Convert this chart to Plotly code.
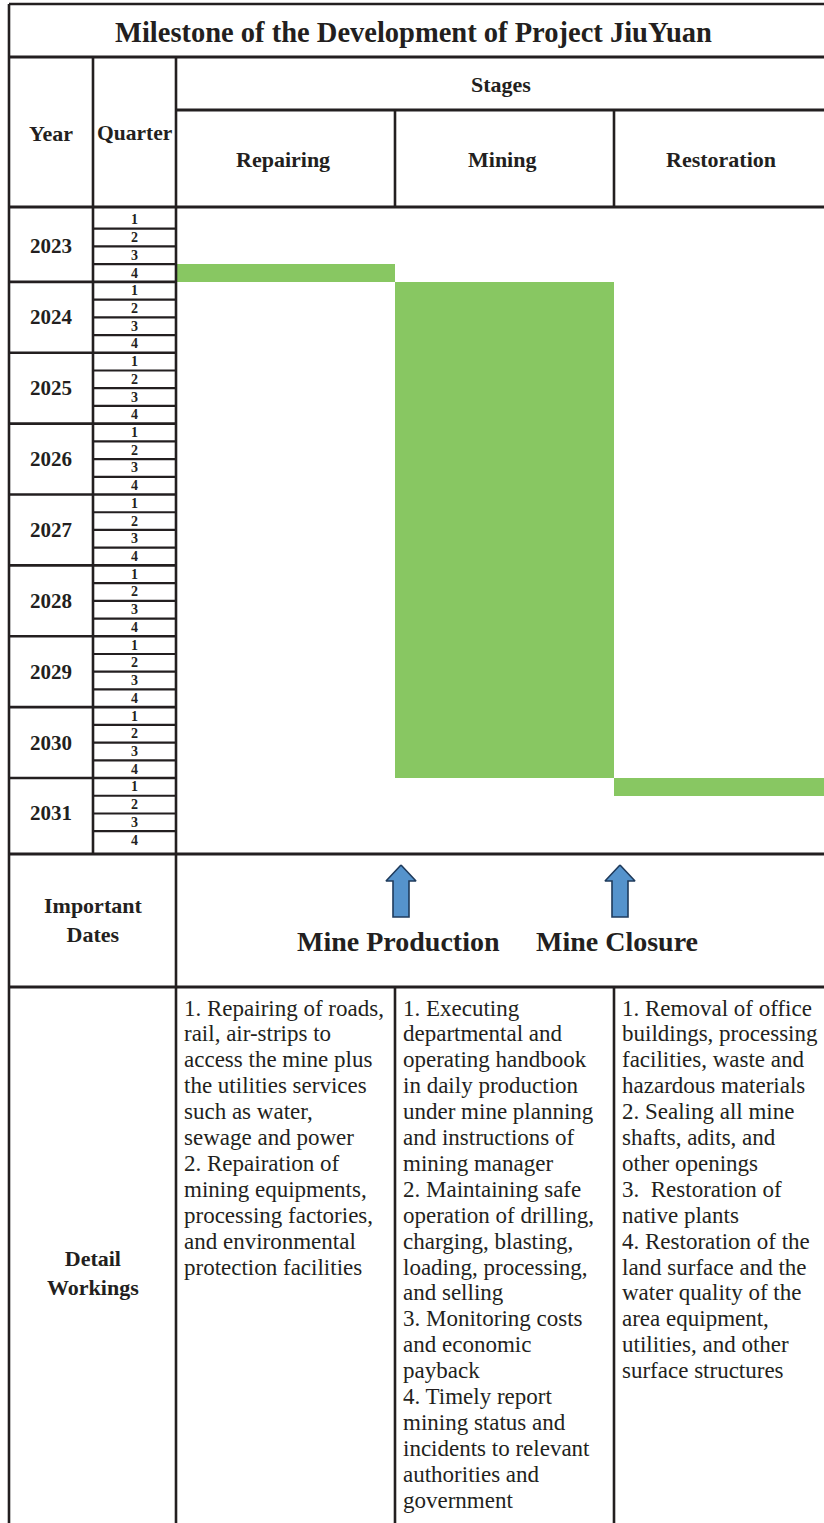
import plotly.graph_objects as go

# ---------------- data ----------------
TITLE = "Milestone of the Development of Project JiuYuan"
years = [2023, 2024, 2025, 2026, 2027, 2028, 2029, 2030, 2031]
quarters = [1, 2, 3, 4]
stages = ["Repairing", "Mining", "Restoration"]
stage_start = [(2023, 4), (2024, 1), (2031, 1)]   # (year, quarter) first active quarter
stage_end = [(2023, 4), (2030, 4), (2031, 1)]     # (year, quarter) last active quarter
milestones = ["Mine Production", "Mine Closure"]
milestone_stage = ["Mining", "Restoration"]       # milestone marks the start of this stage
header_labels = {"year": "Year", "quarter": "Quarter", "stages": "Stages"}
row_labels = ["Important<br>Dates", "Detail<br>Workings"]

details_repairing = [
    "1. Repairing of roads,", "rail, air-strips to", "access the mine plus",
    "the utilities services", "such as water,", "sewage and power",
    "2. Repairation of", "mining equipments,", "processing factories,",
    "and environmental", "protection facilities",
]
details_mining = [
    "1. Executing", "departmental and", "operating handbook", "in daily production",
    "under mine planning", "and instructions of", "mining manager",
    "2. Maintaining safe", "operation of drilling,", "charging, blasting,",
    "loading, processing,", "and selling", "3. Monitoring costs", "and economic",
    "payback", "4. Timely report", "mining status and", "incidents to relevant",
    "authorities and", "government",
]
details_restoration = [
    "1. Removal of office", "buildings, processing", "facilities, waste and",
    "hazardous materials", "2. Sealing all mine", "shafts, adits, and",
    "other openings", "3.  Restoration of", "native plants",
    "4. Restoration of the", "land surface and the", "water quality of the",
    "area equipment,", "utilities, and other", "surface structures",
]
details = [details_repairing, details_mining, details_restoration]

# ---------------- layout / style constants ----------------
W, H = 824, 1523
X_L, X_YEAR, X_QTR = 9, 93, 176
COL_W = 219
Y_TOP, Y_TITLE, Y_STAGES, Y_HEAD = 4, 57, 110, 207
Y_TIME, Y_DATES = 854, 987
Q0_PX, Q_PX = 211.0, 17.72           # pixel of first quarter boundary, pixels per quarter
LINE_C = "#231F20"
TEXT_C = "#231F20"
GREEN = "#88C762"
ARROW_FILL = "#5593CC"
ARROW_LINE = "#1F3B5C"
FONT = "Liberation Serif"
LW = 2.6

col_left = [X_QTR + i * COL_W for i in range(len(stages))]
first_year = years[0]


def qidx(yq):
    y, q = yq
    return (y - first_year) * 4 + (q - 1)


n_q = len(years) * len(quarters)
k_top = (Y_HEAD - Q0_PX) / Q_PX
k_bot = (Y_TIME - Q0_PX) / Q_PX

fig = go.Figure()

# green stage bars on the time/stage axes
starts = [qidx(s) for s in stage_start]
durs = [qidx(e) - qidx(s) + 1 for s, e in zip(stage_start, stage_end)]
fig.add_trace(go.Bar(
    x=stages, y=durs, base=starts, width=1.0,
    marker=dict(color=GREEN, line=dict(width=0)),
    xaxis="x2", yaxis="y2", hoverinfo="skip", showlegend=False,
))

# arrows for milestones (pixel axes)
for name, st in zip(milestones, milestone_stage):
    cx = col_left[stages.index(st)] + 6
    tip, hb, bot, hw, sw = 865, 881, 917, 15, 8
    xs = [cx, cx + hw, cx + sw, cx + sw, cx - sw, cx - sw, cx - hw, cx]
    ys = [tip, hb, hb, bot, bot, hb, hb, tip]
    fig.add_trace(go.Scatter(
        x=xs, y=ys, mode="lines", fill="toself", fillcolor=ARROW_FILL,
        line=dict(color=ARROW_LINE, width=1.6), hoverinfo="skip", showlegend=False,
        xaxis="x", yaxis="y",
    ))

shapes = []


def hline(x0, x1, y, yref="y", w=LW):
    shapes.append(dict(type="line", xref="x", yref=yref, x0=x0, x1=x1, y0=y, y1=y,
                       line=dict(color=LINE_C, width=w)))


def vline(x, y0, y1, w=LW):
    shapes.append(dict(type="line", xref="x", yref="y", x0=x, x1=x, y0=y0, y1=y1,
                       line=dict(color=LINE_C, width=w)))


hline(X_L, W, Y_TOP)
hline(X_L, W, Y_TITLE, w=3)
hline(X_QTR, W, Y_STAGES, w=3)
hline(X_L, W, Y_HEAD, w=3)
hline(X_L, W, Y_TIME, w=3)
hline(X_L, W, Y_DATES, w=3)
vline(X_L, Y_TOP, H)
vline(X_YEAR, Y_TITLE, Y_TIME)
vline(X_QTR, Y_TITLE, H)
for cl in col_left[1:]:
    vline(cl, Y_STAGES, Y_HEAD)
    vline(cl, Y_DATES, H)

# quarter / year grid on the time axis
for k in range(1, n_q):
    if k % 4 == 0:
        hline(X_L, X_QTR, k, yref="y2")
    else:
        hline(X_YEAR, X_QTR, k, yref="y2", w=2.2)

ann = []


def text(x, y, s, size, bold=True, yref="y", xanchor="center"):
    ann.append(dict(x=x, y=y, xref="x", yref=yref, text=(f"<b>{s}</b>" if bold else s),
                    showarrow=False, xanchor=xanchor, yanchor="middle",
                    font=dict(family=FONT, size=size, color=TEXT_C)))


text(413, 32, TITLE, 28.5)
text((X_QTR + W) / 2 + 1, 84, header_labels["stages"], 22)
text((X_L + X_YEAR) / 2, 133, header_labels["year"], 22)
text((X_YEAR + X_QTR) / 2, 133, header_labels["quarter"], 21.5)
for i, s in enumerate(stages):
    text(col_left[i] + COL_W / 2 - 3, 159, s, 22)

for i, yv in enumerate(years):
    text((X_L + X_YEAR) / 2, i * 4 + 2, str(yv), 21, yref="y2")
    for q in quarters:
        text((X_YEAR + X_QTR) / 2, i * 4 + (q - 1) + 0.5, str(q), 14, yref="y2")

text((X_L + X_QTR) / 2, 920, row_labels[0], 22)
text((X_L + X_QTR) / 2, 1273, row_labels[1], 22)

for name, st in zip(milestones, milestone_stage):
    text(col_left[stages.index(st)] + 3, 941, name, 28)

LINE_H = 25.9
for i, lines in enumerate(details):
    for j, ln in enumerate(lines):
        text(col_left[i] + 6, 1008 + j * LINE_H, ln, 23, bold=False, xanchor="left")

fig.update_layout(
    width=W, height=H, margin=dict(l=0, r=0, t=0, b=0),
    paper_bgcolor="white", plot_bgcolor="rgba(0,0,0,0)",
    showlegend=False, bargap=0,
    xaxis=dict(range=[0, W], domain=[0, 1], visible=False, fixedrange=True, anchor="y"),
    yaxis=dict(range=[H, 0], domain=[0, 1], visible=False, fixedrange=True, anchor="x"),
    xaxis2=dict(type="category", categoryorder="array", categoryarray=stages,
                range=[-0.5, -0.5 + (W - X_QTR) / COL_W],
                domain=[X_QTR / W, 1], anchor="y2", visible=False, fixedrange=True),
    yaxis2=dict(range=[k_bot, k_top], domain=[1 - Y_TIME / H, 1 - Y_HEAD / H],
                anchor="x2", visible=False, fixedrange=True),
    shapes=shapes, annotations=ann,
)

fig.write_html("out.html")
